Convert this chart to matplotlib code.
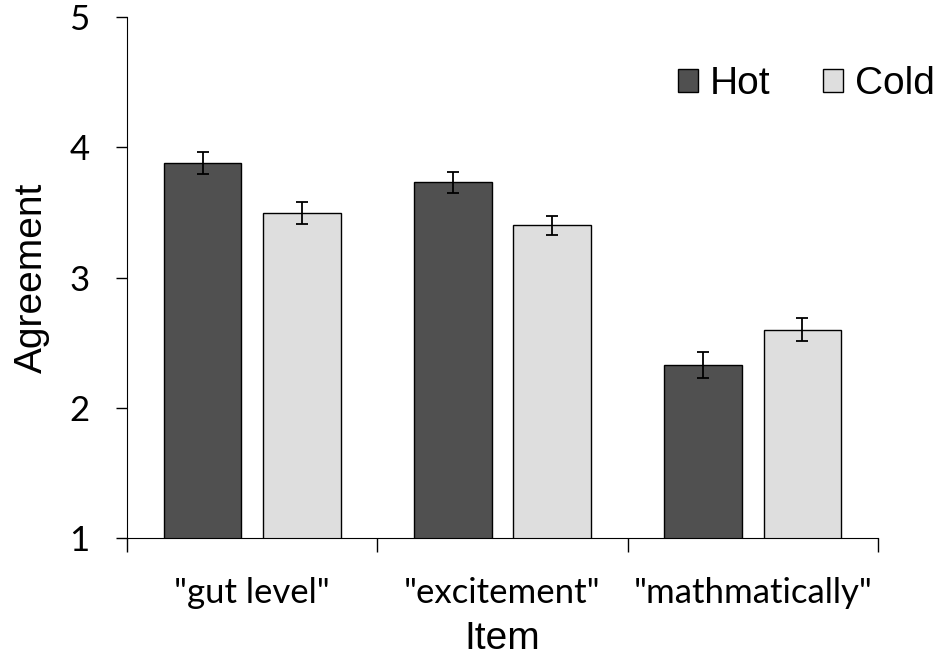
import numpy as np
import matplotlib.pyplot as plt
from matplotlib.ticker import FixedLocator, NullFormatter, FixedFormatter

items = ['"gut level"', '"excitement"', '"mathmatically"']
hot = [3.88, 3.73, 2.33]
hot_err = [0.085, 0.08, 0.10]
cold = [3.495, 3.40, 2.60]
cold_err = [0.085, 0.07, 0.09]

fig = plt.figure(figsize=(9.38, 6.60), dpi=100)
ax = fig.add_axes([0.1354, 0.1848, 0.8006, 0.7894])
ax.spines['top'].set_visible(False)
ax.spines['right'].set_visible(False)

x = np.arange(len(items))
w = 0.31
off = 0.198
ekw = dict(ecolor='black', elinewidth=1.3, capsize=4.3, capthick=1.3)
ax.bar(x - off, hot, w, yerr=hot_err, color='#505050', edgecolor='black', lw=1, label='Hot', error_kw=ekw)
ax.bar(x + off, cold, w, yerr=cold_err, color='#dedede', edgecolor='black', lw=1, label='Cold', error_kw=ekw)

ax.set_xlim(-0.5, 2.5)
ax.set_ylim(1, 5)
ax.set_yticks([1, 2, 3, 4, 5])
ax.tick_params(axis='y', length=8, width=1, labelsize=25, pad=19)
ax.xaxis.set_major_locator(FixedLocator([-0.5, 0.5, 1.5, 2.5]))
ax.xaxis.set_major_formatter(NullFormatter())
ax.xaxis.set_minor_locator(FixedLocator(x))
ax.xaxis.set_minor_formatter(FixedFormatter(items))
ax.tick_params(axis='x', which='major', length=10, width=1)
ax.tick_params(axis='x', which='minor', length=0, labelsize=25, pad=28)
for lab in ax.get_xticklabels(minor=True) + ax.get_yticklabels():
    lab.set_family('Lato')

ax.set_ylabel('Agreement', fontsize=28, family='Liberation Sans', labelpad=14)
ax.set_xlabel('Item', fontsize=28, family='Liberation Sans', labelpad=9)

ax.legend(loc='center right', bbox_to_anchor=(935 / 938, 1 - 84 / 660), bbox_transform=fig.transFigure,
          ncol=2, frameon=False, prop={'family': 'Liberation Sans', 'size': 28},
          handlelength=0.52, handleheight=0.52, handletextpad=0.3, columnspacing=1.35,
          borderpad=0, borderaxespad=0)

fig.savefig('out.png', dpi=100)
